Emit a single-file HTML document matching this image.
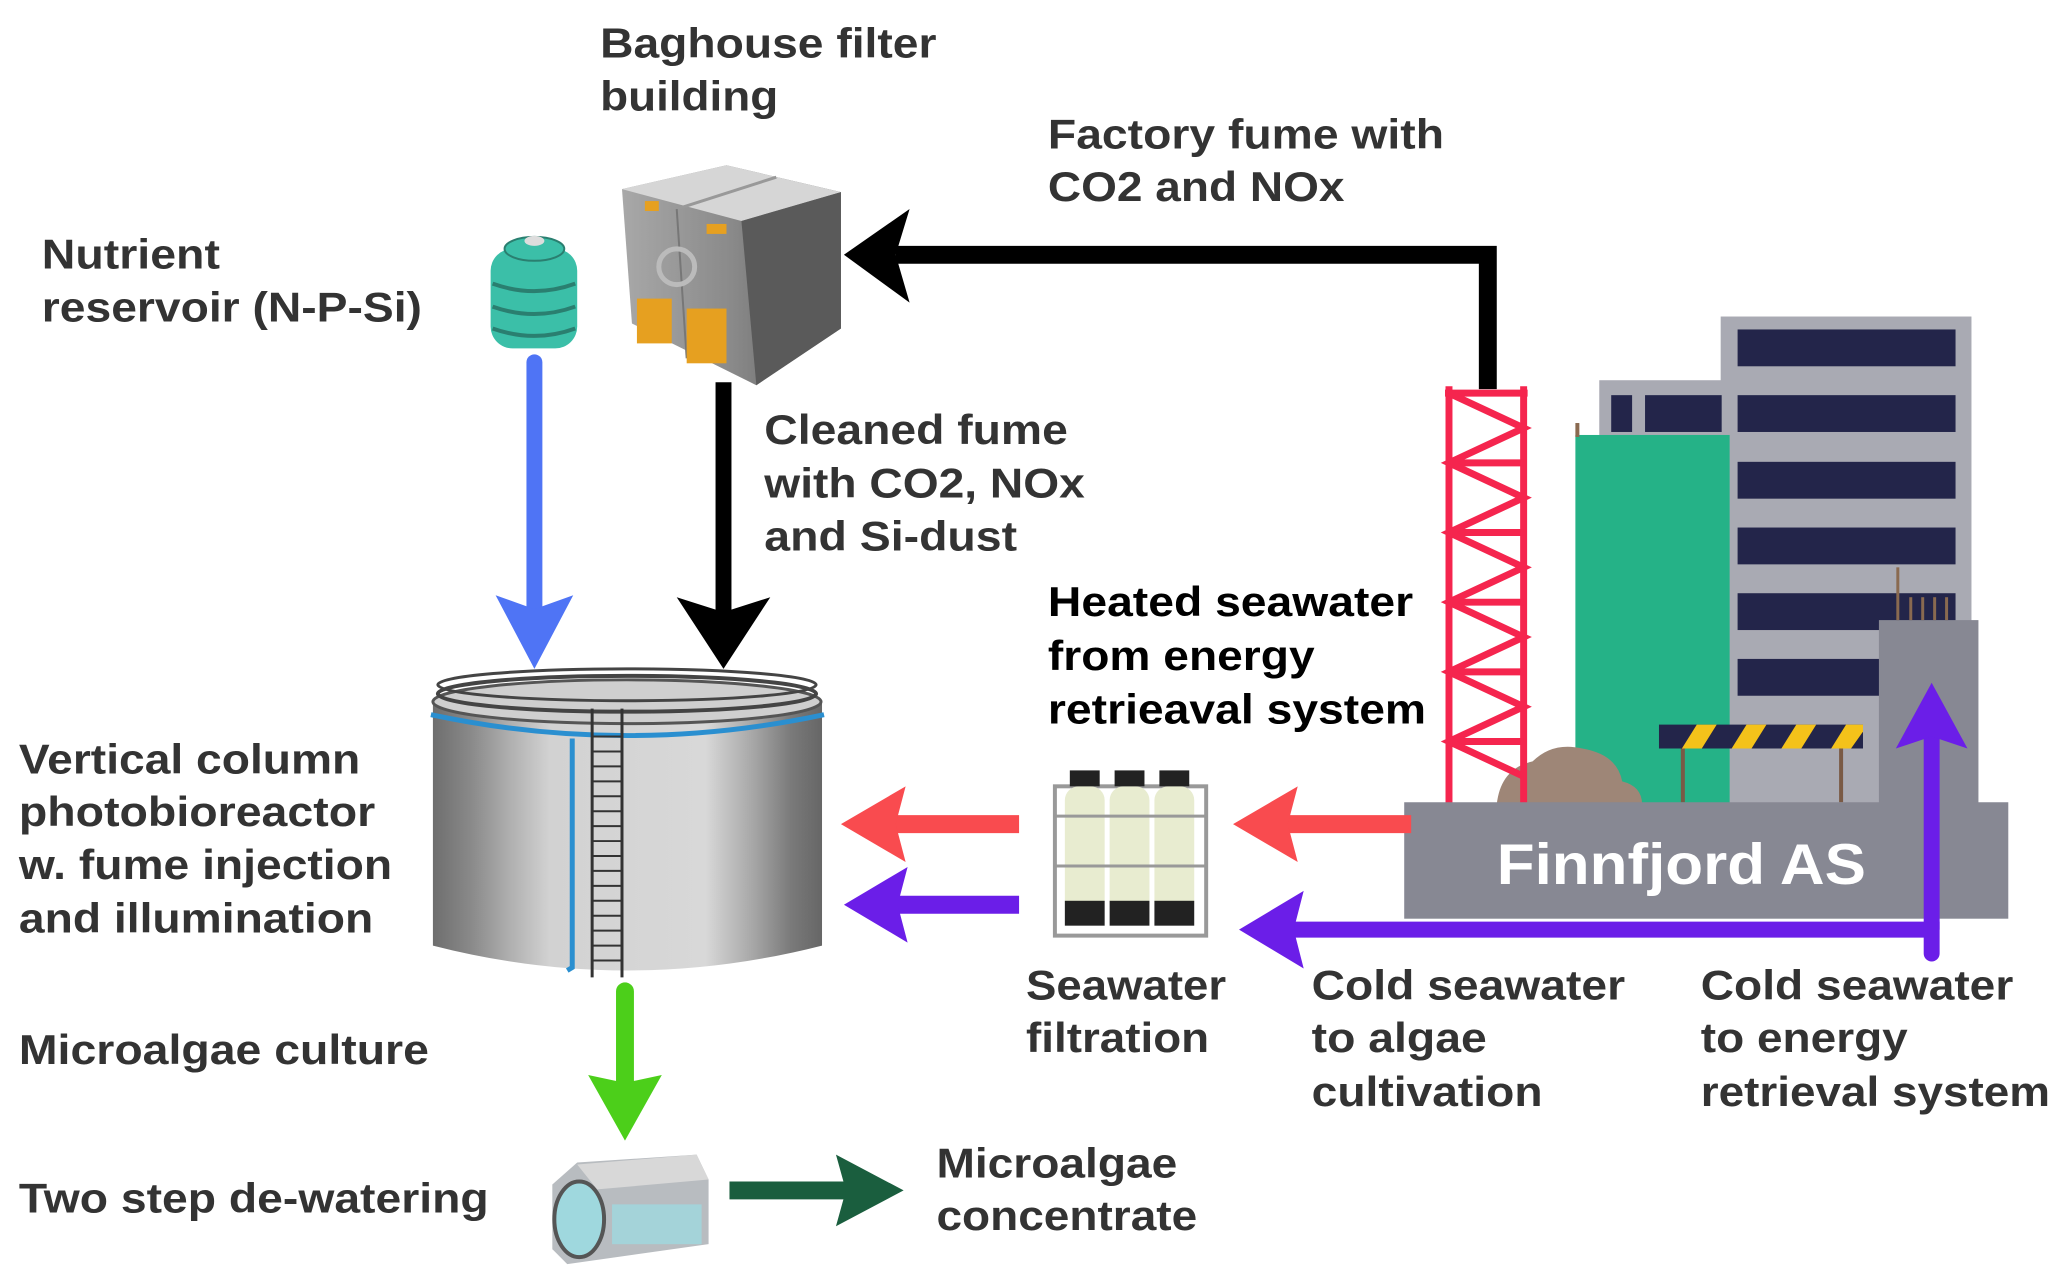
<!DOCTYPE html>
<html><head><meta charset="utf-8"><style>
html,body{margin:0;padding:0;background:#fff}
svg{display:block}
text{font-family:"Liberation Sans",sans-serif;font-weight:bold;fill:#333;font-size:42px}
</style></head><body>
<svg width="2068" height="1282" viewBox="0 0 2078 1288" preserveAspectRatio="none" xmlns="http://www.w3.org/2000/svg">
<defs>
<linearGradient id="cyl" x1="0" x2="1" y1="0" y2="0">
<stop offset="0" stop-color="#6e6e6e"/><stop offset="0.1" stop-color="#8a8a8a"/><stop offset="0.2" stop-color="#b0b0b0"/><stop offset="0.3" stop-color="#d2d2d2"/><stop offset="0.7" stop-color="#d8d8d8"/><stop offset="0.82" stop-color="#a8a8a8"/><stop offset="0.92" stop-color="#7a7a7a"/><stop offset="1" stop-color="#666"/>
</linearGradient>
<linearGradient id="box" x1="0" x2="1"><stop offset="0" stop-color="#a8a8a8"/><stop offset="0.5" stop-color="#8a8a8a"/><stop offset="1" stop-color="#5a5a5a"/></linearGradient>
</defs>

<rect x="1729" y="318" width="252" height="490" fill="#a9aab3"/>
<g fill="#23254a">
<rect x="1746" y="331" width="219" height="37"/><rect x="1746" y="397" width="219" height="37"/><rect x="1746" y="464" width="219" height="37"/><rect x="1746" y="530" width="219" height="37"/><rect x="1746" y="596" width="219" height="37"/><rect x="1746" y="662" width="219" height="37"/>
</g>
<rect x="1607" y="382" width="129" height="426" fill="#a9aab3"/>
<rect x="1619" y="397" width="21" height="37" fill="#23254a"/><rect x="1653" y="397" width="77" height="37" fill="#23254a"/>
<rect x="1583" y="437" width="155" height="371" fill="#25b287"/>
<rect x="1583" y="425" width="4" height="14" fill="#8a6a50"/>
<rect x="1888" y="623" width="100" height="185" fill="#878893"/>
<g stroke="#8a6a50" stroke-width="3"><line x1="1907" y1="570" x2="1907" y2="623"/><line x1="1920" y1="600" x2="1920" y2="623"/><line x1="1932" y1="600" x2="1932" y2="623"/><line x1="1944" y1="600" x2="1944" y2="623"/><line x1="1956" y1="600" x2="1956" y2="623"/></g>
<rect x="1667" y="728" width="205" height="24" fill="#23254a"/>
<g fill="#f4c21a"><polygon points="1690,752 1705,728 1725,728 1710,752"/><polygon points="1740,752 1755,728 1775,728 1760,752"/><polygon points="1790,752 1805,728 1825,728 1810,752"/><polygon points="1840,752 1855,728 1872,728 1872,735 1860,752"/></g>
<g stroke="#7a5a45" stroke-width="4"><line x1="1691" y1="752" x2="1691" y2="806"/><line x1="1850" y1="752" x2="1850" y2="806"/></g>
<path d="M1504 808 Q1508 772 1540 765 Q1560 745 1590 752 Q1625 758 1630 785 Q1650 790 1650 808 Z" fill="#9e8677"/>
<g stroke="#f5254e" stroke-width="7" fill="none">
<line x1="1456" y1="388" x2="1456" y2="808"/><line x1="1531" y1="388" x2="1531" y2="808"/>
<line x1="1452" y1="395" x2="1535" y2="395"/>
<line x1="1456" y1="465" x2="1531" y2="465"/><line x1="1456" y1="535" x2="1531" y2="535"/><line x1="1456" y1="605" x2="1531" y2="605"/><line x1="1456" y1="675" x2="1531" y2="675"/><line x1="1456" y1="745" x2="1531" y2="745"/>
<polyline points="1456,395 1531,430 1456,465 1531,500 1456,535 1531,570 1456,605 1531,640 1456,675 1531,710 1456,745 1531,780"/>
</g>
<rect x="1411" y="806" width="607" height="117" fill="#878893"/>
<text x="1504" y="888" style="fill:#fff;font-size:58px" textLength="371" lengthAdjust="spacingAndGlyphs">Finnfjord AS</text>

<polyline points="1495,391 1495,256 900,256" fill="none" stroke="#000" stroke-width="18"/>
<polygon points="848,256 914,210 900,256 914,304" fill="#000"/>
<line x1="727" y1="384" x2="727" y2="620" stroke="#000" stroke-width="16"/>
<polygon points="727,672 680,600 727,615 774,600" fill="#000"/>
<line x1="537" y1="364" x2="537" y2="620" stroke="#4f74f5" stroke-width="16" stroke-linecap="round"/>
<polygon points="537,672 498,598 537,612 576,598" fill="#4f74f5"/>
<line x1="1024" y1="828" x2="890" y2="828" stroke="#f94b4f" stroke-width="18"/>
<polygon points="845,828 910,790 900,828 910,866" fill="#f94b4f"/>
<line x1="1418" y1="828" x2="1285" y2="828" stroke="#f94b4f" stroke-width="18"/>
<polygon points="1239,828 1304,790 1294,828 1304,866" fill="#f94b4f"/>
<line x1="1024" y1="909" x2="890" y2="909" stroke="#6b1ee8" stroke-width="18"/>
<polygon points="848,909 912,871 902,909 912,947" fill="#6b1ee8"/>
<polyline points="1300,934 1941,934 1941,958" fill="none" stroke="#6b1ee8" stroke-width="16" stroke-linecap="round"/>
<polygon points="1245,934 1310,895 1300,934 1310,973" fill="#6b1ee8"/>
<line x1="1941" y1="934" x2="1941" y2="740" stroke="#6b1ee8" stroke-width="16"/>
<polygon points="1941,686 1977,752 1941,740 1905,752" fill="#6b1ee8"/>
<line x1="628" y1="996" x2="628" y2="1090" stroke="#4ccf1a" stroke-width="18" stroke-linecap="round"/>
<polygon points="628,1146 591,1080 628,1088 665,1080" fill="#4ccf1a"/>
<line x1="733" y1="1196" x2="860" y2="1196" stroke="#1a5e3e" stroke-width="18"/>
<polygon points="908,1196 840,1160 850,1196 840,1232" fill="#1a5e3e"/>

<rect x="493" y="250" width="87" height="100" rx="22" fill="#3bbfa8"/>
<ellipse cx="537" cy="250" rx="30" ry="12" fill="#3bbfa8" stroke="#2a7f70" stroke-width="2"/>
<ellipse cx="537" cy="242" rx="10" ry="5" fill="#ddd"/>
<g stroke="#2a7f70" stroke-width="4" fill="none"><path d="M495 285 Q537 300 578 285"/><path d="M495 308 Q537 323 578 308"/><path d="M495 330 Q537 345 578 330"/></g>

<polygon points="625,190 730,166 845,193 845,330 760,387 635,325" fill="url(#box)"/>
<polygon points="625,190 730,166 845,193 745,222" fill="#d6d6d6"/>
<polygon points="745,222 845,193 845,330 760,387" fill="#5a5a5a"/>
<line x1="680" y1="210" x2="780" y2="178" stroke="#999" stroke-width="3"/>
<line x1="680" y1="210" x2="690" y2="360" stroke="#777" stroke-width="2"/>
<circle cx="680" cy="268" r="18" fill="none" stroke="#bbb" stroke-width="5"/>
<g fill="#e6a020"><rect x="640" y="300" width="35" height="45"/><rect x="690" y="310" width="40" height="55"/><rect x="648" y="202" width="14" height="10"/><rect x="710" y="225" width="20" height="10"/></g>

<path d="M435 705 L435 950 Q630 1000 826 950 L826 705 Z" fill="url(#cyl)"/>
<ellipse cx="630" cy="705" rx="195" ry="22" fill="#cfcfcf" stroke="#555" stroke-width="3"/>
<ellipse cx="630" cy="697" rx="190" ry="18" fill="none" stroke="#444" stroke-width="4"/>
<ellipse cx="630" cy="688" rx="190" ry="16" fill="none" stroke="#444" stroke-width="3"/>
<path d="M433 718 Q630 760 828 718" fill="none" stroke="#2a8fd0" stroke-width="5"/>
<polyline points="575,742 575,972 570,975" fill="none" stroke="#2a8fd0" stroke-width="5"/>
<g stroke="#333" stroke-width="3"><line x1="595" y1="712" x2="595" y2="982"/><line x1="625" y1="712" x2="625" y2="982"/></g>
<g stroke="#333" stroke-width="2">
<line x1="595" y1="740" x2="625" y2="740"/><line x1="595" y1="755" x2="625" y2="755"/><line x1="595" y1="770" x2="625" y2="770"/><line x1="595" y1="785" x2="625" y2="785"/><line x1="595" y1="800" x2="625" y2="800"/><line x1="595" y1="815" x2="625" y2="815"/><line x1="595" y1="830" x2="625" y2="830"/><line x1="595" y1="845" x2="625" y2="845"/><line x1="595" y1="860" x2="625" y2="860"/><line x1="595" y1="875" x2="625" y2="875"/><line x1="595" y1="890" x2="625" y2="890"/><line x1="595" y1="905" x2="625" y2="905"/><line x1="595" y1="920" x2="625" y2="920"/><line x1="595" y1="935" x2="625" y2="935"/><line x1="595" y1="950" x2="625" y2="950"/><line x1="595" y1="965" x2="625" y2="965"/></g>

<rect x="1060" y="790" width="152" height="150" fill="none" stroke="#999" stroke-width="4"/>
<g fill="#e8ecd0"><rect x="1070" y="790" width="40" height="130" rx="14"/><rect x="1115" y="790" width="40" height="130" rx="14"/><rect x="1160" y="790" width="40" height="130" rx="14"/></g>
<g fill="#222"><rect x="1070" y="905" width="40" height="25"/><rect x="1115" y="905" width="40" height="25"/><rect x="1160" y="905" width="40" height="25"/><rect x="1075" y="774" width="30" height="16"/><rect x="1120" y="774" width="30" height="16"/><rect x="1165" y="774" width="30" height="16"/></g>
<line x1="1060" y1="820" x2="1212" y2="820" stroke="#999" stroke-width="3"/><line x1="1060" y1="870" x2="1212" y2="870" stroke="#999" stroke-width="3"/>

<polygon points="555,1190 580,1168 700,1160 712,1185 712,1250 570,1270 555,1255" fill="#b8bcc0"/>
<ellipse cx="582" cy="1225" rx="25" ry="38" fill="#9fd8de" stroke="#555" stroke-width="4"/>
<rect x="615" y="1210" width="90" height="40" fill="#9fd8de" opacity="0.8"/>
<polygon points="580,1170 700,1160 712,1185 600,1195" fill="#d8d8d8"/>

<text x="603" y="58" textLength="338" lengthAdjust="spacingAndGlyphs">Baghouse filter</text>
<text x="603" y="111" textLength="179" lengthAdjust="spacingAndGlyphs">building</text>
<text x="1053" y="149" textLength="398" lengthAdjust="spacingAndGlyphs">Factory fume with</text>
<text x="1053" y="202" textLength="298" lengthAdjust="spacingAndGlyphs">CO2 and NOx</text>
<text x="42" y="270" textLength="179" lengthAdjust="spacingAndGlyphs">Nutrient</text>
<text x="42" y="323" textLength="382" lengthAdjust="spacingAndGlyphs">reservoir (N-P-Si)</text>
<text x="768" y="446" textLength="305" lengthAdjust="spacingAndGlyphs">Cleaned fume</text>
<text x="768" y="500" textLength="322" lengthAdjust="spacingAndGlyphs">with CO2, NOx</text>
<text x="768" y="553" textLength="254" lengthAdjust="spacingAndGlyphs">and Si-dust</text>
<text x="1053" y="619" textLength="367" lengthAdjust="spacingAndGlyphs" style="fill:#000">Heated seawater</text>
<text x="1053" y="673" textLength="268" lengthAdjust="spacingAndGlyphs" style="fill:#000">from energy</text>
<text x="1053" y="727" textLength="380" lengthAdjust="spacingAndGlyphs" style="fill:#000">retrieaval system</text>
<text x="19" y="777" textLength="343" lengthAdjust="spacingAndGlyphs">Vertical column</text>
<text x="19" y="830" textLength="358" lengthAdjust="spacingAndGlyphs">photobioreactor</text>
<text x="19" y="883" textLength="375" lengthAdjust="spacingAndGlyphs">w. fume injection</text>
<text x="19" y="937" textLength="356" lengthAdjust="spacingAndGlyphs">and illumination</text>
<text x="19" y="1069" textLength="412" lengthAdjust="spacingAndGlyphs">Microalgae culture</text>
<text x="19" y="1218" textLength="472" lengthAdjust="spacingAndGlyphs">Two step de-watering</text>
<text x="941" y="1183" textLength="242" lengthAdjust="spacingAndGlyphs">Microalgae</text>
<text x="941" y="1236" textLength="262" lengthAdjust="spacingAndGlyphs">concentrate</text>
<text x="1031" y="1004" textLength="201" lengthAdjust="spacingAndGlyphs">Seawater</text>
<text x="1031" y="1057" textLength="184" lengthAdjust="spacingAndGlyphs">filtration</text>
<text x="1318" y="1004" textLength="315" lengthAdjust="spacingAndGlyphs">Cold seawater</text>
<text x="1318" y="1057" textLength="176" lengthAdjust="spacingAndGlyphs">to algae</text>
<text x="1318" y="1111" textLength="232" lengthAdjust="spacingAndGlyphs">cultivation</text>
<text x="1709" y="1004" textLength="314" lengthAdjust="spacingAndGlyphs">Cold seawater</text>
<text x="1709" y="1057" textLength="208" lengthAdjust="spacingAndGlyphs">to energy</text>
<text x="1709" y="1111" textLength="351" lengthAdjust="spacingAndGlyphs">retrieval system</text>
</svg>
</body></html>
